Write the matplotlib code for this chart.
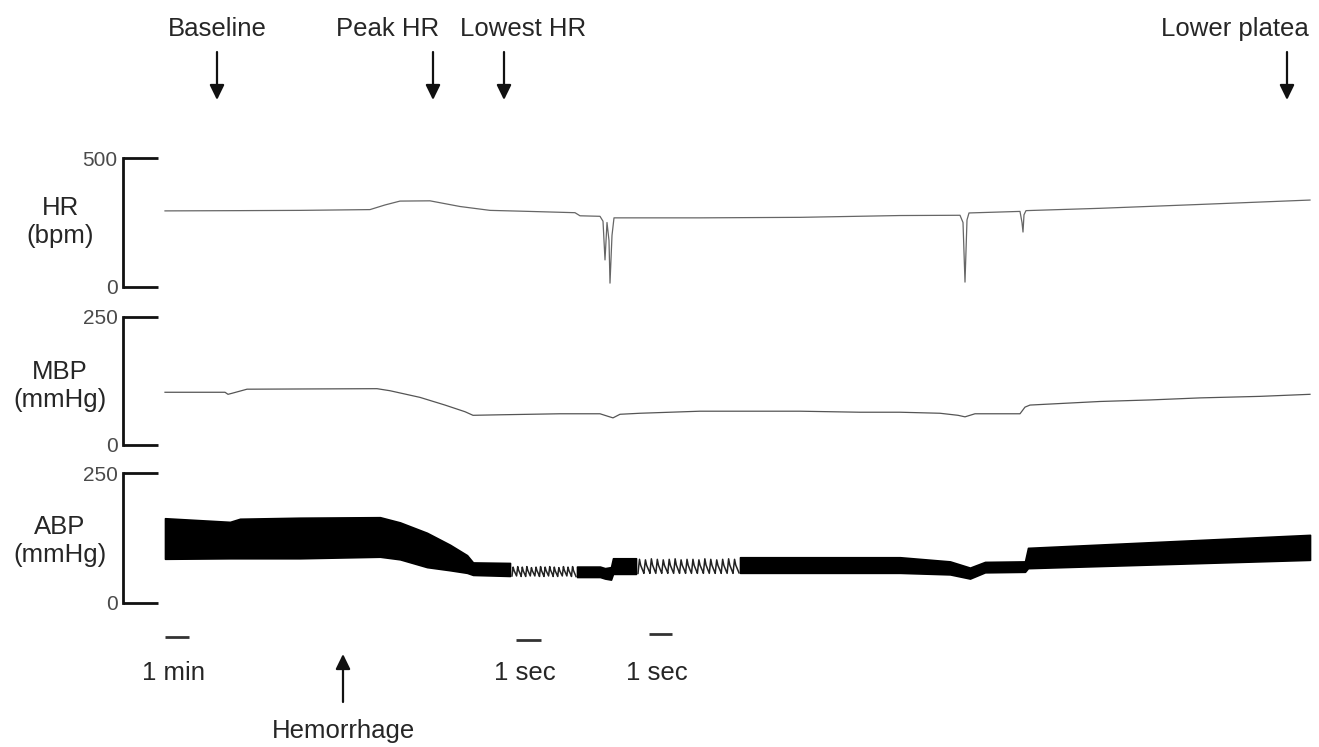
import numpy as np
import matplotlib
matplotlib.use("Agg")
import matplotlib.pyplot as plt
from matplotlib.patches import ArrowStyle
from matplotlib.transforms import blended_transform_factory

plt.rcParams['font.family'] = ['Liberation Sans', 'DejaVu Sans']

# ---------------------------------------------------------------------------
# Recorded traces (horizontal position along the record, arbitrary units)
# ---------------------------------------------------------------------------
hr_t = [0, 75, 135, 205, 220, 235, 265, 295, 325, 355, 410, 415, 435, 438, 440,
        442, 444, 445, 447, 449, 535, 635, 735, 795, 798, 800, 802, 804, 855,
        857, 858, 859, 861, 935, 1035, 1145]
hr_bpm = [295, 296, 297, 300, 318, 333, 334, 312, 297, 294, 288, 276, 274, 255,
          105, 250, 180, 15, 200, 268, 268, 270, 277, 278, 250, 19, 260, 287,
          293, 250, 213, 280, 296, 305, 320, 337]

mbp_t = [0, 60, 63, 67, 82, 212, 225, 255, 280, 300, 308, 335, 395, 435, 443,
         448, 455, 475, 535, 635, 695, 735, 775, 793, 800, 810, 855, 860, 865,
         935, 985, 1035, 1095, 1145]
mbp_mmhg = [103, 103, 99, 101, 109, 110, 106, 93, 78, 65, 58, 59, 61, 61, 56,
            53, 60, 62, 66, 66, 64, 64, 62, 58, 55, 61, 61, 74, 78, 85, 88, 92,
            95, 99]

# ABP envelope (systolic / diastolic) for the compressed stretches
abp_seg1_t = [0, 65, 75, 135, 215, 235, 262, 285, 302, 308, 345]
abp_seg1_sys = [163, 156, 162, 164, 165, 155, 135, 112, 92, 78, 77]
abp_seg1_dia = [85, 86, 86, 86, 89, 84, 69, 63, 58, 54, 52]

abp_seg2_t = [412, 435, 440, 446, 448, 471]
abp_seg2_sys = [70, 70, 67, 69, 86, 86]
abp_seg2_dia = [50, 50, 47, 45, 56, 56]

abp_seg3_t = [575, 735, 785, 805, 820, 860, 863, 1145]
abp_seg3_sys = [88, 88, 80, 68, 79, 80, 106, 131]
abp_seg3_dia = [58, 58, 55, 47, 59, 60, 67, 83]

# Expanded stretches (1 sec scale): beat-by-beat systolic / diastolic values
fast1_span = (347, 411)
fast1_sys = [69, 70, 69, 70, 68, 69, 70, 69, 70, 69, 68, 70, 69, 70]
fast1_dia = [52, 52, 51, 52, 52, 52, 51, 52, 52, 51, 52, 52, 52, 51]

fast2_span = (473, 574)
fast2_sys = [84, 83, 85, 84, 83, 84, 85, 83, 84, 84, 83, 85, 84, 83, 84, 85, 84]
fast2_dia = [57, 58, 57, 57, 58, 57, 57, 58, 57, 57, 58, 57, 57, 58, 57, 57, 58]

# Event markers
event_names = ["Baseline", "Peak HR", "Lowest HR", "Lower platea"]
event_t = [52, 268, 339, 1122]
hemorrhage_t = 178

# Scale bars: (start, end, label)
scale_bars = [(0, 24, "1 min"), (351, 376, "1 sec"), (484, 507, "1 sec")]

# Panel axis limits and labels
panel_labels = ["HR\n(bpm)", "MBP\n(mmHg)", "ABP\n(mmHg)"]
panel_max = [500, 250, 250]

# ---------------------------------------------------------------------------
W, H = 1319, 747
fig = plt.figure(figsize=(W / 100, H / 100), dpi=100)
TXT = "#262626"


def fx(px):
    return px / W


def fy(py):
    return 1 - py / H


# panel boxes in pixel rows: (top, bottom) and label centre rows
rows = [(158, 287), (317, 445), (473, 603)]
label_rows = [222, 386, 541]
left_px = 123
t0_px = 165
xlim = (left_px - t0_px, W - t0_px)

axes = []
for (top, bot), lab, ymax, lrow in zip(rows, panel_labels, panel_max, label_rows):
    ax = fig.add_axes([fx(left_px), fy(bot), 1 - fx(left_px), (bot - top) / H])
    ax.set_xlim(*xlim)
    ax.set_ylim(0, ymax)
    for s in ("top", "right", "bottom"):
        ax.spines[s].set_visible(False)
    ax.spines["left"].set_linewidth(2.0)
    ax.spines["left"].set_color("#111111")
    ax.set_xticks([])
    ax.set_yticks([0, ymax])
    ax.tick_params(axis="y", direction="in", length=25, width=2.0,
                   color="#111111", pad=4, labelsize=15, labelcolor="#4a4a4a")
    ax.patch.set_alpha(0)
    fig.text(fx(60), fy(lrow), lab, ha="center", va="center",
             fontsize=18.5, color=TXT, linespacing=1.2)
    axes.append(ax)

ax_hr, ax_mbp, ax_abp = axes

ax_hr.plot(hr_t, hr_bpm, color="#666666", lw=0.9)
ax_mbp.plot(mbp_t, mbp_mmhg, color="#555555", lw=0.9)

for t, s, d in [(abp_seg1_t, abp_seg1_sys, abp_seg1_dia),
                (abp_seg2_t, abp_seg2_sys, abp_seg2_dia),
                (abp_seg3_t, abp_seg3_sys, abp_seg3_dia)]:
    ax_abp.fill_between(t, d, s, color="black", lw=1.2, edgecolor="black")


def beat_wave(span, sys, dia):
    n = len(sys)
    edges = np.linspace(span[0], span[1], n + 1)
    xs, ys = [], []
    for i in range(n):
        w = edges[i + 1] - edges[i]
        xs += [edges[i], edges[i] + 0.25 * w, edges[i] + 0.45 * w, edges[i] + w]
        ys += [dia[i], sys[i], (sys[i] + dia[i]) / 2 + 2, dia[i]]
    return xs, ys


for span, s, d in [(fast1_span, fast1_sys, fast1_dia),
                   (fast2_span, fast2_sys, fast2_dia)]:
    xs, ys = beat_wave(span, s, d)
    ax_abp.plot(xs, ys, color="#222222", lw=1.1)

# Event arrows above the traces
trans = blended_transform_factory(ax_hr.transData, fig.transFigure)
astyle = ArrowStyle("-|>", head_length=0.45, head_width=0.22)
text_offsets = [0, -45, 19, -52]
for name, t, off in zip(event_names, event_t, text_offsets):
    ax_hr.annotate("", xy=(t, fy(100)), xycoords=trans,
                   xytext=(t, fy(52)), textcoords=trans,
                   arrowprops=dict(arrowstyle=astyle, mutation_scale=20,
                                   lw=1.6, color="#111111",
                                   shrinkA=0, shrinkB=0))
    ax_hr.text(t + off, fy(29), name, transform=trans, ha="center",
               va="center", fontsize=18.5, color=TXT)

# Hemorrhage marker below the traces
trans_b = blended_transform_factory(ax_abp.transData, fig.transFigure)
ax_abp.annotate("", xy=(hemorrhage_t, fy(654)), xycoords=trans_b,
                xytext=(hemorrhage_t, fy(702)), textcoords=trans_b,
                arrowprops=dict(arrowstyle=astyle, mutation_scale=20, lw=1.6,
                                color="#111111", shrinkA=0, shrinkB=0),
                annotation_clip=False)
ax_abp.text(hemorrhage_t, fy(731), "Hemorrhage", transform=trans_b,
            ha="center", va="center", fontsize=18.5, color=TXT)

# Time scale bars
bar_rows = [637, 640, 634]
for (a, b, lab), row in zip(scale_bars, bar_rows):
    ax_abp.plot([a, b], [fy(row), fy(row)], transform=trans_b,
                color="#333333", lw=2.0, clip_on=False, solid_capstyle="butt")
    ax_abp.text((a + b) / 2 - 4, fy(673), lab, transform=trans_b,
                ha="center", va="center", fontsize=18.5, color=TXT)

fig.savefig("out.png", dpi=100)
